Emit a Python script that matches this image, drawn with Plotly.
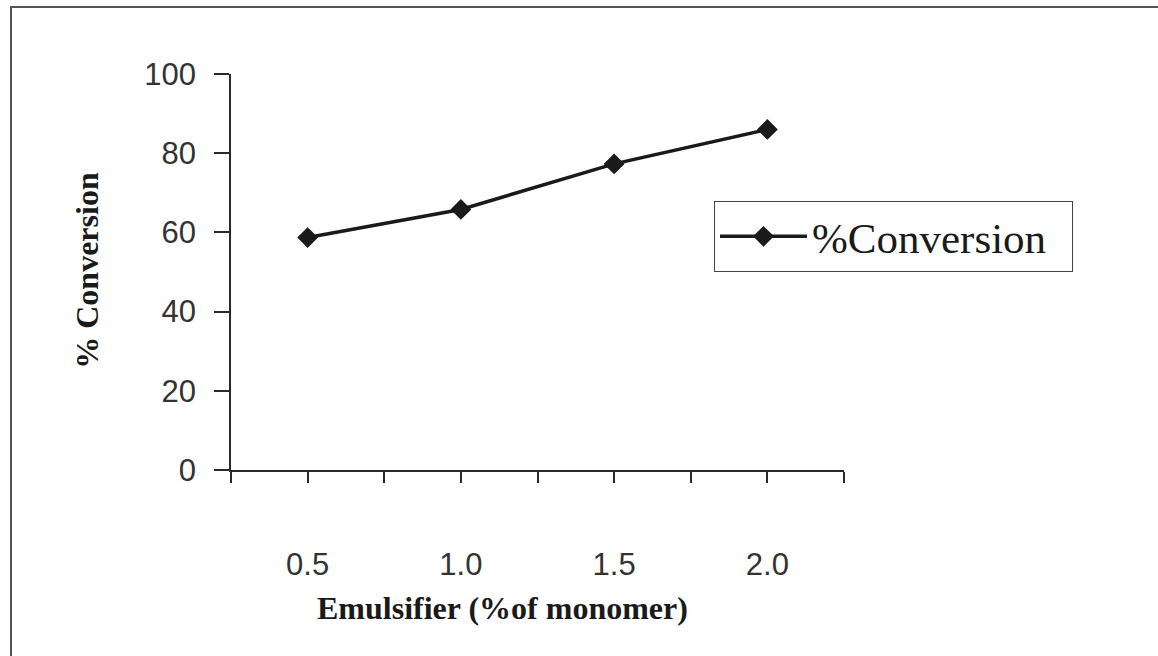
import plotly.graph_objects as go

# ---- data ----
emulsifier = [0.5, 1.0, 1.5, 2.0]
conversion = [58.7, 65.8, 77.3, 86.0]
series_name = "%Conversion"
x_tickvals = [0.25, 0.5, 0.75, 1.0, 1.25, 1.5, 1.75, 2.0, 2.25]
x_ticktext = ["", "0.5", "", "1.0", "", "1.5", "", "2.0", ""]
y_tickvals = [0, 20, 40, 60, 80, 100]
x_title = "Emulsifier (%of monomer)"
y_title = "% Conversion"

# ---- layout geometry (pixels) ----
W, H = 1158, 656
ML, MR, MT, MB = 231, 314, 74, 185.5
PW = W - ML - MR
PH = H - MT - MB


def px(xp):
    return (xp - ML) / PW


def py(yp):
    return (H - MB - yp) / PH


ink = "#2a2a2a"
sans = "Liberation Sans, Arial, sans-serif"
serif = "Liberation Serif, Times New Roman, serif"

fig = go.Figure()
fig.add_trace(go.Scatter(
    x=emulsifier, y=conversion, name=series_name, mode="lines+markers",
    line=dict(color="#1a1a1a", width=3.5),
    marker=dict(symbol="diamond", size=16, color="#1a1a1a"),
    showlegend=True,
))

fig.update_layout(
    width=W, height=H,
    margin=dict(l=ML, r=MR, t=MT, b=MB, pad=0),
    paper_bgcolor="white", plot_bgcolor="white",
    showlegend=True,
    legend=dict(
        x=px(714), y=py(201), xanchor="left", yanchor="top",
        orientation="h",
        bordercolor="#444", borderwidth=1, bgcolor="white",
        font=dict(family=serif, size=43, color="#1a1a1a"),
        itemwidth=87,
        entrywidth=255, entrywidthmode="pixels",
    ),
    xaxis=dict(
        range=[0.25, 2.25], tickmode="array", tickvals=x_tickvals, ticktext=x_ticktext,
        showgrid=False, zeroline=False, showline=True, linecolor=ink, linewidth=1.5,
        ticks="outside", ticklen=11, tickcolor=ink, tickwidth=1.5,
        tickfont=dict(family=sans, size=31, color="#333"),
        ticklabelstandoff=55,
    ),
    yaxis=dict(
        range=[0, 100], tickmode="array", tickvals=y_tickvals,
        showgrid=False, zeroline=False, showline=True, linecolor=ink, linewidth=1.5,
        ticks="outside", ticklen=15, tickcolor=ink, tickwidth=1.5,
        tickfont=dict(family=sans, size=31, color="#333"),
        ticklabelstandoff=12,
    ),
    annotations=[
        dict(text="<b>" + x_title + "</b>", xref="paper", yref="paper",
             x=px(502), y=py(609), xanchor="center", yanchor="middle", showarrow=False,
             font=dict(family=serif, size=32, color="#1a1a1a")),
        dict(text="<b>" + y_title + "</b>", xref="paper", yref="paper",
             x=px(87), y=py(271), xanchor="center", yanchor="middle", showarrow=False,
             textangle=-90,
             font=dict(family=serif, size=32, color="#1a1a1a")),
    ],
    shapes=[
        dict(type="rect", xref="paper", yref="paper",
             x0=px(11), x1=px(1175), y0=py(675), y1=py(7),
             line=dict(color="#555", width=2), fillcolor="rgba(0,0,0,0)", layer="below"),
    ],
)

fig.write_html("out.html")
